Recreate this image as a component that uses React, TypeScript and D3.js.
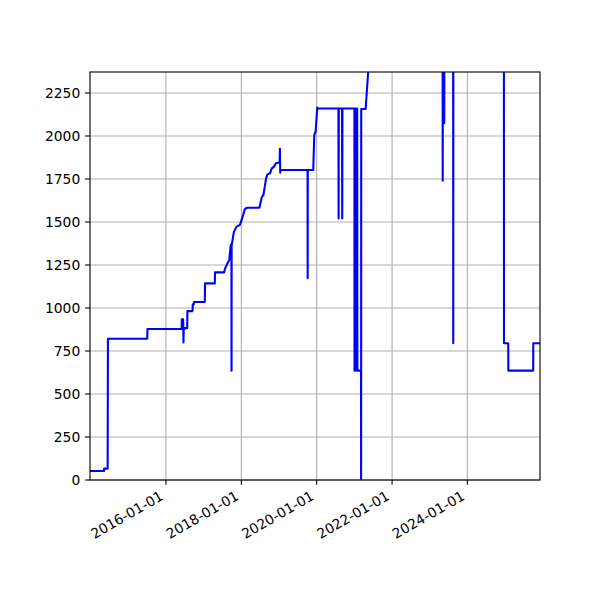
import React, { useEffect } from "react";
import * as d3 from "d3";

const dates: string[] = [
  "2013-12-26", "2014-05-10", "2014-05-12", "2014-06-15", "2014-06-18", "2015-07-04", "2015-07-06",
  "2016-06-01", "2016-06-03", "2016-06-16", "2016-06-19", "2016-06-22", "2016-07-25", "2016-07-27",
  "2016-09-15", "2016-09-17", "2016-09-27", "2016-09-29", "2017-01-12", "2017-01-14", "2017-04-19",
  "2017-04-21", "2017-07-18", "2017-07-26", "2017-08-15", "2017-09-06", "2017-09-20", "2017-09-27",
  "2017-09-28", "2017-09-29", "2017-10-08", "2017-10-21", "2017-11-16", "2017-12-18", "2018-01-04",
  "2018-02-05", "2018-02-27", "2018-06-25", "2018-07-18", "2018-08-03", "2018-08-29", "2018-09-11",
  "2018-10-06", "2018-10-23", "2018-11-14", "2018-12-01", "2018-12-26", "2019-01-07", "2019-01-10",
  "2019-01-13", "2019-01-16", "2019-01-30", "2019-10-05", "2019-10-06", "2019-10-07", "2019-11-29",
  "2019-12-09", "2019-12-22", "2020-01-07", "2020-01-12", "2020-07-30", "2020-08-01", "2020-08-03",
  "2020-09-03", "2020-09-05", "2020-09-07", "2021-01-01", "2021-01-02", "2021-01-14", "2021-01-16",
  "2021-01-28", "2021-01-30", "2021-03-06", "2021-03-07", "2021-03-08", "2021-04-20", "2021-05-22",
  "2021-07-01", "2023-05-06", "2023-05-07", "2023-05-08", "2023-05-21", "2023-05-22", "2023-05-23",
  "2023-08-16", "2023-08-17", "2023-08-18", "2024-12-20", "2024-12-21", "2025-01-31", "2025-02-01",
  "2025-09-30", "2025-10-01", "2025-12-05",
];

const values: number[] = [
  52, 52, 66, 66, 821, 821, 878,
  878, 934, 934, 800, 883, 883, 982,
  982, 1021, 1021, 1035, 1035, 1143, 1143,
  1207, 1207, 1227, 1254, 1279, 1366, 1370,
  635, 1366, 1395, 1444, 1473, 1483, 1512,
  1576, 1583, 1583, 1644, 1657, 1754, 1777,
  1783, 1812, 1822, 1841, 1845, 1845, 1925,
  1787, 1802, 1802, 1802, 1173, 1802, 1802,
  2006, 2025, 2165, 2160, 2160, 1521, 2160,
  2160, 1521, 2160, 2160, 636, 636, 2160,
  2160, 636, 636, 0, 2157, 2157, 2440,
  2600, 2600, 1740, 2600, 2600, 2074, 2600,
  2600, 795, 2600, 2600, 795, 795, 636,
  636, 795, 795,
];

const yTicks: number[] = [0, 250, 500, 750, 1000, 1250, 1500, 1750, 2000, 2250];
const xTickLabels: string[] = ["2016-01-01", "2018-01-01", "2020-01-01", "2022-01-01", "2024-01-01"];
const yMax = 2372;

export default function App() {
  useEffect(() => {
    document.body.style.margin = "0";
  }, []);

  const W = 600, H = 600;
  const left = 90, right = 540, top = 72, bottom = 480;
  const parse = d3.utcParse("%Y-%m-%d");
  const pts = dates.map((d, i) => ({ d: parse(d) as Date, v: values[i] }));
  const x = d3.scaleUtc().domain([pts[0].d, pts[pts.length - 1].d]).range([left, right]);
  const y = d3.scaleLinear().domain([0, yMax]).range([bottom, top]);
  const line = d3.line<{ d: Date; v: number }>().x((p) => x(p.d)).y((p) => y(p.v));
  const pt = 100 / 72;
  const fs = 10 * pt;
  const tickLen = 3.5 * pt;
  const pad = 3.5 * pt;
  const font = "DejaVu Sans";

  return (
    <svg width={W} height={H} style={{ display: "block", background: "#fff" }}>
      <defs>
        <clipPath id="plotclip">
          <rect x={left} y={top} width={right - left} height={bottom - top} />
        </clipPath>
      </defs>
      <rect x={0} y={0} width={W} height={H} fill="#fff" />
      {/* grid */}
      {xTickLabels.map((t) => {
        const xx = x(parse(t) as Date);
        return <line key={"gx" + t} x1={xx} x2={xx} y1={top} y2={bottom} stroke="#b0b0b0" strokeWidth={0.8 * pt} />;
      })}
      {yTicks.map((t) => (
        <line key={"gy" + t} x1={left} x2={right} y1={y(t)} y2={y(t)} stroke="#b0b0b0" strokeWidth={0.8 * pt} />
      ))}
      <path d={line(pts) || ""} fill="none" stroke="#0000ff" strokeWidth={1.5 * pt} strokeLinejoin="round" strokeLinecap="butt" clipPath="url(#plotclip)" />
      {/* spines */}
      <rect x={left} y={top} width={right - left} height={bottom - top} fill="none" stroke="#000" strokeWidth={0.8 * pt} />
      {/* y ticks */}
      {yTicks.map((t) => (
        <g key={"ty" + t}>
          <line x1={left - tickLen} x2={left} y1={y(t)} y2={y(t)} stroke="#000" strokeWidth={0.8 * pt} />
          <text x={left - tickLen - pad} y={y(t)} dy="0.36em" textAnchor="end" fontFamily={font} fontSize={fs} fill="#000">
            {t}
          </text>
        </g>
      ))}
      {/* x ticks */}
      {xTickLabels.map((t) => {
        const xx = x(parse(t) as Date);
        const ty = bottom + tickLen + pad;
        const a = 0.76 * fs;
        const d = 0.24 * fs;
        const ox = xx - 0.5 * d;
        const oy = ty + 0.866 * a;
        return (
          <g key={"tx" + t}>
            <line x1={xx} x2={xx} y1={bottom} y2={bottom + tickLen} stroke="#000" strokeWidth={0.8 * pt} />
            <text transform={`translate(${ox},${oy}) rotate(-30)`} textAnchor="end" fontFamily={font} fontSize={fs} fill="#000">
              {t}
            </text>
          </g>
        );
      })}
    </svg>
  );
}
